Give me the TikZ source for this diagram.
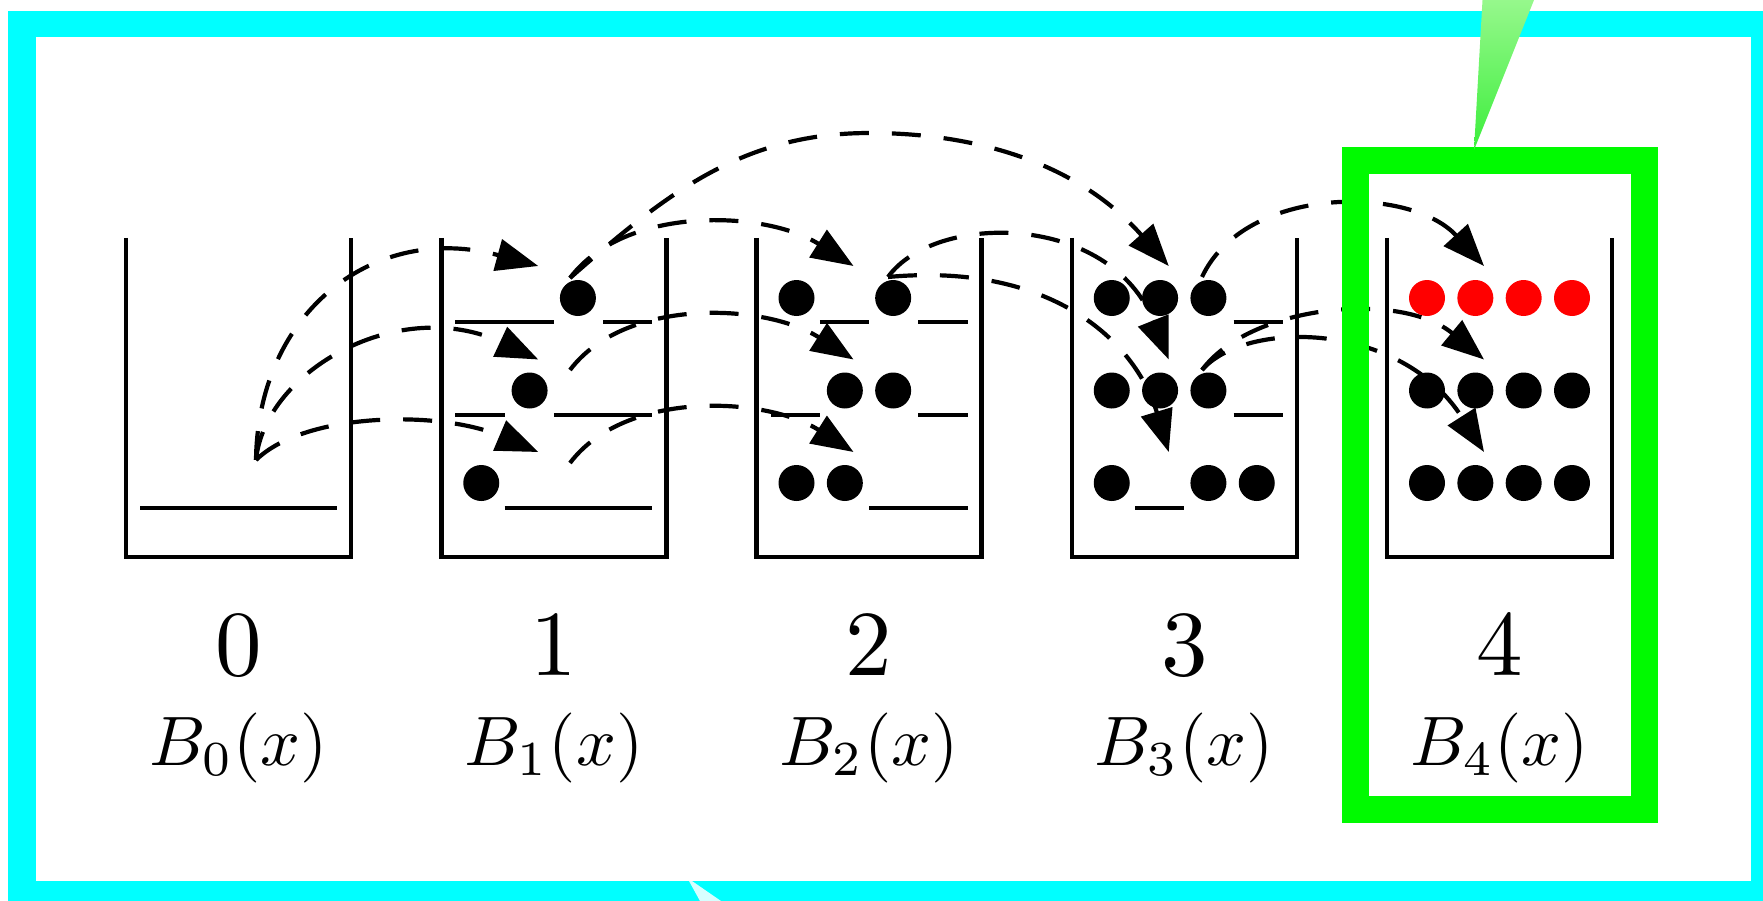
\documentclass[tikz,border=0pt]{standalone}
\usetikzlibrary{arrows.meta}
\definecolor{frameCyan}{RGB}{0,255,255}
\definecolor{boxGreen}{RGB}{0,250,0}
\definecolor{dotRed}{RGB}{255,0,0}
\definecolor{wedgeTop}{RGB}{150,248,140}
\definecolor{wedgeBot}{RGB}{60,238,60}
\definecolor{tailCyan}{RGB}{215,255,255}
\begin{document}
\begin{tikzpicture}[x=1pt,y=-1pt,
  binwall/.style={line width=4.5pt, line join=miter},
  shelf/.style={line width=4.5pt},
  ball/.style={circle, fill=black, inner sep=0pt, minimum size=36pt},
  redball/.style={ball, fill=dotRed},
  flow/.style={line width=4.2pt, dash pattern=on 29pt off 23pt, -{Triangle[length=42pt,width=32pt]}},
  numlabel/.style={anchor=base, inner sep=0pt, scale=9.3},
  fnlabel/.style={anchor=base, inner sep=0pt, scale=7}]
\useasboundingbox (0,0) rectangle (1763,901);
% frame
\fill[frameCyan] (8,10.7) rectangle (1763,901);
\fill[white] (35.6,37.3) rectangle (1751,881);
\fill[tailCyan] (689,881) -- (692,881) -- (721,901) -- (700,901) -- cycle;
% bins and labels
\foreach \b in {0,...,4}{
  \pgfmathsetmacro{\L}{126+315.25*\b}
  \pgfmathsetmacro{\R}{\L+225}
  \pgfmathsetmacro{\C}{\L+112.5}
  \draw[binwall] (\L,238) -- (\L,557) -- (\R,557) -- (\R,238);
  \node[numlabel] (num\b) at (\C,675) {\b};
  \node[fnlabel] (fn\b) at (\C,765) {$B_{\b}(x)$};
}
% empty slots
\foreach \b/\r/\s/\e in {0/3/1/4, 1/1/1/2, 1/1/4/4, 1/2/1/1, 1/2/3/4, 1/3/2/4,
  2/1/2/2, 2/1/4/4, 2/2/1/1, 2/2/4/4, 2/3/3/4, 3/1/4/4, 3/2/4/4, 3/3/2/2}{
  \pgfmathsetmacro{\xa}{126+315.25*\b+14+49.25*(\s-1)}
  \pgfmathsetmacro{\xb}{126+315.25*\b+14+49.25*\e}
  \pgfmathsetmacro{\yy}{322+93*(\r-1)}
  \draw[shelf] (\xa,\yy) -- (\xb,\yy);
}
% arrow ends
\coordinate (s0) at (256,460);
\coordinate (s1a) at (570,278);
\coordinate (s1b) at (570,370);
\coordinate (s1c) at (570,463);
\coordinate (s2a) at (888,277);
\coordinate (s3a) at (1202,277);
\coordinate (s3b) at (1202,370);
\foreach \b in {1,...,4}{
  \pgfmathsetmacro{\tx}{126+315.25*\b+97}
  \coordinate (t\b1) at (\tx,266);
  \coordinate (t\b2) at (\tx,359.5);
  \coordinate (t\b3) at (\tx,452);
}
\coordinate (peakD) at (870,133);
% connectors
\draw[flow] (s0) .. controls (258,310) and (376,222) .. (t11);
\draw[flow] (s0) .. controls (265,370) and (400,295) .. (t12);
\draw[flow] (s0) .. controls (305,412) and (440,410) .. (t13);
\draw[flow] (s1a) .. controls (625,205) and (765,210) .. (t21);
\draw[flow] (s1b) .. controls (625,297) and (765,303) .. (t22);
\draw[flow] (s1c) .. controls (625,390) and (765,396) .. (t23);
\draw[flow] (s1a) .. controls (670,190) and (745,133) .. (peakD)
   .. controls (970,133) and (1075,160) .. (t31);
\draw[flow] (s2a) .. controls (935,212) and (1110,212) .. (t32);
\draw[flow] (s2a) .. controls (1050,262) and (1135,340) .. (t33);
\draw[flow] (s3a) .. controls (1245,185) and (1410,185) .. (t41);
\draw[flow] (s3b) .. controls (1250,305) and (1400,290) .. (t42);
\draw[flow] (s3b) .. controls (1245,320) and (1400,320) .. (t43);
% balls
\foreach \b/\r/\s in {1/1/3, 1/2/2, 1/3/1, 2/1/1, 2/1/3, 2/2/2, 2/2/3, 2/3/1, 2/3/2,
  3/1/1, 3/1/2, 3/1/3, 3/2/1, 3/2/2, 3/2/3, 3/3/1, 3/3/3, 3/3/4,
  4/2/1, 4/2/2, 4/2/3, 4/2/4, 4/3/1, 4/3/2, 4/3/3, 4/3/4}{
  \pgfmathsetmacro{\xx}{126+315.25*\b+40+48.33*(\s-1)}
  \pgfmathsetmacro{\yy}{298+92.5*(\r-1)}
  \node[ball] (d\b\r\s) at (\xx,\yy) {};
}
\foreach \s in {1,...,4}{
  \pgfmathsetmacro{\xx}{126+315.25*4+40+48.33*(\s-1)}
  \node[redball] (d41\s) at (\xx,298) {};
}
% highlight box and callout wedge
\draw[boxGreen, line width=27pt] (1355.3,160.3) rectangle (1644,809.7);
\shade[top color=wedgeTop, bottom color=wedgeBot] (1474,150) -- (1482.5,0) -- (1534,0) -- cycle;
\end{tikzpicture}
\end{document}
